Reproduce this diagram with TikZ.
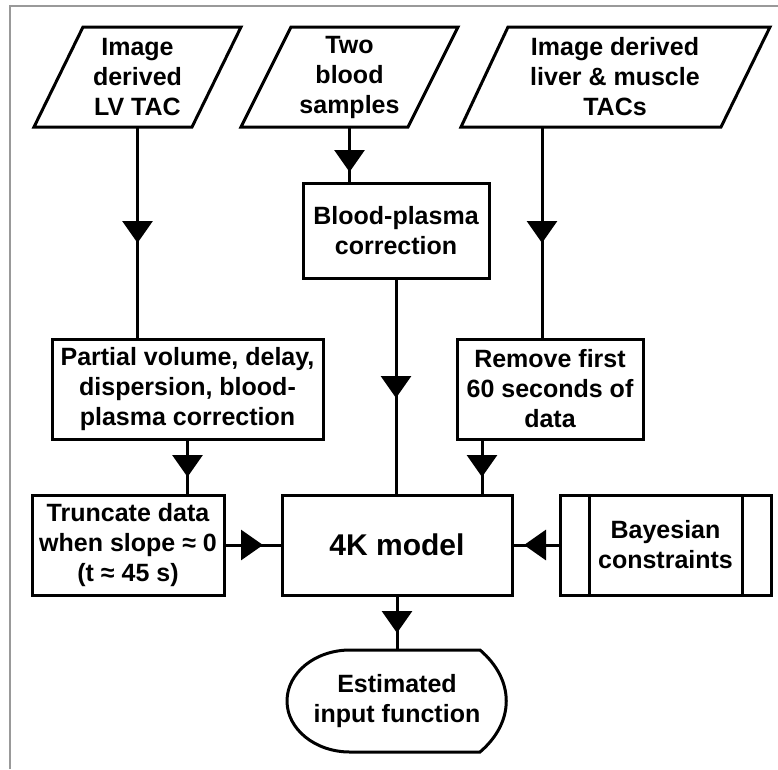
\documentclass[tikz,border=0pt]{standalone}
\usepackage{fontspec}
\setmainfont{Liberation Sans}
\usetikzlibrary{arrows.meta,decorations.markings,calc}
\tikzset{
  txt/.style={inner sep=0pt, outer sep=0pt, align=center, font=\fontsize{25}{30}\selectfont\bfseries},
  box/.style={txt, draw, line width=3pt},
  conn/.style={line width=3pt},
  midarrow/.style={postaction={decorate, decoration={markings, mark=at position #1 with {\arrow{Triangle[width=30pt,length=22pt]}}}}},
  outline/.style={line width=3pt, line join=miter},
}
\begin{document}
\begin{tikzpicture}[x=1pt,y=-1pt]
\useasboundingbox (0,0) rectangle (778,769);
% frame
\draw[gray!80, line width=1.5pt] (10,769) -- (10,6) -- (778,6);

% input parallelograms
\node[txt, minimum height=100pt, minimum width=100pt] (lv) at (137.5,77) {Image\\derived\\LV TAC};
\draw[outline] (83,27) -- (241,27) -- (192,127) -- (34,127) -- cycle;
\node[txt, minimum height=100pt, minimum width=100pt] (bs) at (349.5,77) {Two\\blood\\samples};
\draw[outline] (291,27) -- (458,27) -- (408,127) -- (241,127) -- cycle;
\node[txt, minimum height=100pt, minimum width=200pt] (lm) at (615,77) {Image derived\\liver \& muscle\\TACs};
\draw[outline] (508,27) -- (770,27) -- (721,127) -- (461,127) -- cycle;

% process boxes
\node[box, minimum width=186pt, minimum height=95pt] (bp) at (396,230.5) {Blood-plasma\\correction};
\node[box, minimum width=271pt, minimum height=100pt] (pv) at (187.5,389) {Partial volume, delay,\\dispersion, blood-\\plasma correction};
\node[box, minimum width=186pt, minimum height=100pt] (rm) at (550,389) {Remove first\\60 seconds of\\data};
\node[box, minimum width=192pt, minimum height=100pt] (tr) at (128,545) {Truncate data\\when slope ≈ 0\\(t ≈ 45 s)};
\node[box, minimum width=230pt, minimum height=100pt, font=\fontsize{30}{36}\selectfont\bfseries] (km) at (397,545) {4K model};
\node[box, minimum width=211pt, minimum height=100pt] (by) at (665.5,545) {Bayesian\\constraints};
\draw[conn] ([xshift=29pt]by.north west) -- ([xshift=29pt]by.south west);
\draw[conn] ([xshift=-29pt]by.north east) -- ([xshift=-29pt]by.south east);

% terminal
\node[txt, minimum width=150pt, minimum height=102pt] (est) at (397,701) {Estimated\\input function};
\draw[outline] (350,650) -- (480,650) .. controls (515,680) and (515,722) .. (480,752)
  -- (350,752) .. controls (315.2,752) and (287,729.2) .. (287,701)
  .. controls (287,672.8) and (315.2,650) .. (350,650) -- cycle;

% connectors
\draw[conn, midarrow=116pt] (lv.south) -- (lv.south |- pv.north);
\draw[conn, midarrow=45pt] (bs.south) -- (bs.south |- bp.north);
\draw[conn, midarrow=116pt] ([xshift=-73pt]lm.south) -- ([xshift=-73pt]lm.south |- rm.north);
\draw[conn, midarrow=120pt] (bp.south) -- (bp.south |- km.north);
\draw[conn, midarrow=38pt] (pv.south) -- (pv.south |- tr.north);
\draw[conn, midarrow=38pt] ([xshift=-68pt]rm.south) -- ([xshift=-68pt]rm.south |- km.north);
\draw[conn, midarrow=39pt] (tr.east) -- (km.west);
\draw[conn, midarrow=36pt] (by.west) -- (km.east);
\draw[conn, midarrow=38pt] (km.south) -- (est.north);
\end{tikzpicture}
\end{document}
